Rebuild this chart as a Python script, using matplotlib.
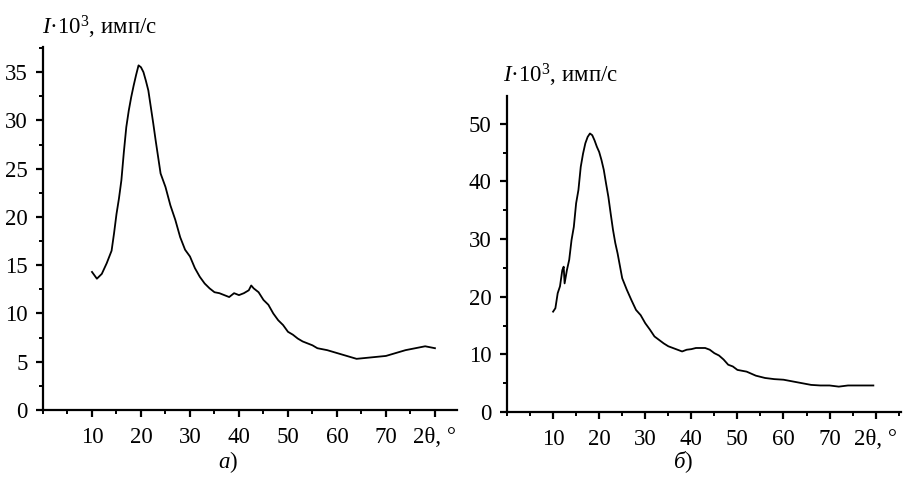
import matplotlib
matplotlib.use("Agg")
import matplotlib.pyplot as plt
from matplotlib.ticker import MultipleLocator, FixedLocator, FixedFormatter

plt.rcParams['font.family'] = ['Liberation Serif', 'DejaVu Serif']
plt.rcParams['mathtext.fontset'] = 'custom'
plt.rcParams['mathtext.rm'] = 'Liberation Serif'
plt.rcParams['mathtext.it'] = 'Liberation Serif:italic'

# ---- data (a) ----
theta_a = [10, 11, 12, 13, 14, 14.5, 15, 15.5, 16, 16.5, 17, 17.5, 18, 18.5, 19, 19.5,
           20, 20.5, 21, 21.5, 22, 22.5, 23, 23.5, 24, 25, 26, 27, 28, 29, 30, 31, 32,
           33, 34, 35, 36, 37, 38, 39, 40, 41, 42, 42.5, 43, 44, 45, 46, 47, 48, 49, 50,
           51, 52, 53, 54, 55, 56, 58, 60, 62, 64, 66, 68, 70, 72, 74, 76, 78, 80]
intens_a = [14.3, 13.6, 14.1, 15.2, 16.5, 18.3, 20.3, 21.9, 23.8, 26.7, 29.3, 31.0, 32.4,
            33.6, 34.7, 35.7, 35.5, 35.0, 34.1, 33.1, 31.4, 29.7, 27.9, 26.2, 24.5, 23.1,
            21.2, 19.7, 17.9, 16.6, 15.9, 14.7, 13.8, 13.1, 12.6, 12.2, 12.1, 11.9, 11.7,
            12.1, 11.9, 12.1, 12.4, 12.9, 12.6, 12.2, 11.4, 10.9, 10.0, 9.3, 8.8, 8.1, 7.8,
            7.4, 7.1, 6.9, 6.7, 6.4, 6.2, 5.9, 5.6, 5.3, 5.4, 5.5, 5.6, 5.9, 6.2, 6.4, 6.6, 6.4]

# ---- data (b) ----
theta_b = [10, 10.5, 11, 11.5, 12, 12.3, 12.5, 13, 13.5, 14, 14.5, 15, 15.5, 16, 16.5, 17,
           17.5, 18, 18.5, 19, 19.5, 20, 20.5, 21, 21.5, 22, 22.5, 23, 23.5, 24, 25, 26,
           27, 28, 29, 30, 31, 32, 33, 34, 35, 36, 37, 38, 39, 40, 41, 42, 43, 44, 45, 46,
           47, 48, 49, 50, 52, 54, 56, 58, 60, 62, 64, 66, 68, 70, 72, 74, 76, 78, 79.5]
intens_b = [17.4, 18.0, 20.6, 21.8, 24.6, 25.2, 22.3, 24.6, 26.4, 29.8, 32.1, 36.2, 38.5,
            42.5, 44.8, 46.6, 47.7, 48.3, 48.0, 47.1, 46.0, 45.1, 43.7, 42.0, 39.6, 37.3,
            34.4, 31.6, 29.3, 27.5, 23.2, 21.2, 19.4, 17.7, 16.8, 15.4, 14.3, 13.1, 12.5,
            11.9, 11.4, 11.1, 10.8, 10.5, 10.8, 10.9, 11.1, 11.1, 11.1, 10.8, 10.2, 9.8,
            9.1, 8.2, 7.9, 7.3, 7.0, 6.3, 5.9, 5.7, 5.6, 5.3, 5.0, 4.7, 4.6, 4.6, 4.4, 4.6,
            4.6, 4.6, 4.6]

x_ticks = [10, 20, 30, 40, 50, 60, 70, 80]
x_ticklabels = ['10', '20', '30', '40', '50', '60', '70', '2θ, °']
y_ticks_a = [0, 5, 10, 15, 20, 25, 30, 35]
y_ticks_b = [0, 10, 20, 30, 40, 50]
ylabel = r"$I$·10$^{3}$, имп/с"

fig = plt.figure(figsize=(9.09, 4.86), dpi=100)
ax1 = fig.add_axes([43/909, 76/486, 414/909, 363/486])
ax2 = fig.add_axes([507/909, 74/486, 394/909, 316/486])

FS = 16.5

def style(ax, xlim, ylim, yticks, yminor):
    ax.set_xlim(*xlim)
    ax.set_ylim(*ylim)
    for s in ['top', 'right']:
        ax.spines[s].set_visible(False)
    for s in ['left', 'bottom']:
        ax.spines[s].set_linewidth(1.6)
    ax.xaxis.set_major_locator(FixedLocator(x_ticks))
    ax.xaxis.set_major_formatter(FixedFormatter(x_ticklabels))
    ax.xaxis.set_minor_locator(MultipleLocator(5))
    ax.yaxis.set_major_locator(FixedLocator(yticks))
    ax.yaxis.set_minor_locator(MultipleLocator(yminor))
    ax.tick_params(which='major', direction='out', length=5, width=1.6, labelsize=FS)
    ax.tick_params(which='minor', direction='out', length=3, width=1.4)
    ax.tick_params(axis='y', which='major', pad=6)
    ax.tick_params(axis='x', which='major', pad=7)
    ax.set_facecolor('white')

ax1.plot(theta_a, intens_a, color='black', lw=1.3)
style(ax1, (0, 84.5), (0, 37.6), y_ticks_a, 2.5)
ax2.plot(theta_b, intens_b, color='black', lw=1.3)
style(ax2, (0, 85.5), (0, 54.8), y_ticks_b, 5)

fig.text(42/909, 1 - 27/486, ylabel, fontsize=FS, ha='left', va='center')
fig.text(503/909, 1 - 75/486, ylabel, fontsize=FS, ha='left', va='center')
fig.text(228/909, 1 - 462/486, r"$\mathit{а}$)", fontsize=FS, ha='center', va='center')
fig.text(683/909, 1 - 462/486, r"$\mathit{б}$)", fontsize=FS, ha='center', va='center')

fig.savefig("out.png", dpi=100, facecolor='white')
